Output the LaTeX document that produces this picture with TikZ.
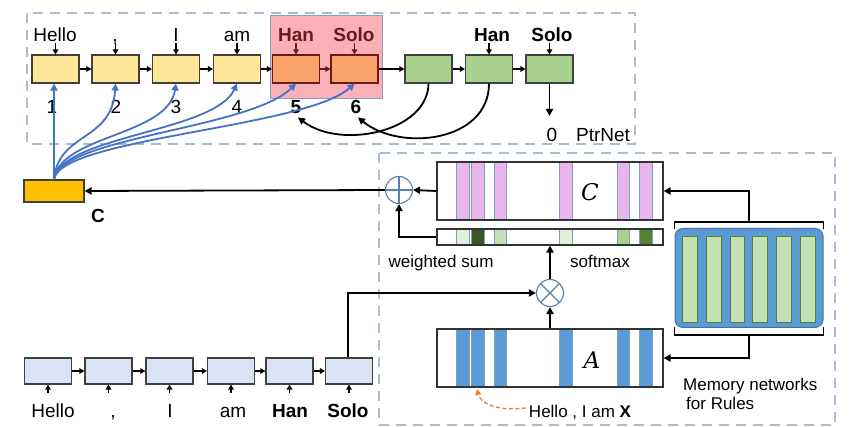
\documentclass[tikz,border=0pt]{standalone}
\usepackage{fontspec}
\setmainfont{Liberation Sans}
\newfontfamily\mfont{DejaVu Serif}
\usetikzlibrary{arrows.meta}
\definecolor{dashc}{HTML}{A7BBD3}
\definecolor{yel}{HTML}{FFE699}
\definecolor{org}{HTML}{FBA36C}
\definecolor{dred}{HTML}{6B1A1A}
\definecolor{pinkhl}{HTML}{FBB0B8}
\definecolor{grn}{HTML}{A9D18E}
\definecolor{gold}{HTML}{FFC000}
\definecolor{lav}{HTML}{DAE3F3}
\definecolor{bluec}{HTML}{4472C4}
\definecolor{stripeb}{HTML}{5B9BD5}
\definecolor{stripep}{HTML}{E8B6EC}
\definecolor{strbord}{HTML}{7F9FC0}
\definecolor{circc}{HTML}{5B7FA6}
\definecolor{bankb}{HTML}{5B9BD5}
\definecolor{bankd}{HTML}{41719C}
\definecolor{barg}{HTML}{C5E0B4}
\definecolor{bard}{HTML}{548235}
\definecolor{orarr}{HTML}{ED7D31}
\definecolor{g1}{HTML}{E2F0D9}
\definecolor{g2}{HTML}{375623}
\definecolor{g3}{HTML}{C5E0B4}
\definecolor{g5}{HTML}{A9D18E}
\definecolor{g6}{HTML}{548235}
\tikzset{
  arr/.style={line width=1.8pt,-{Triangle[length=7pt,width=7pt]}},
  sarr/.style={line width=1.5pt,-{Triangle[length=5pt,width=5.5pt]}},
  barr/.style={bluec,line width=1.8pt,-{Triangle[length=7pt,width=7pt]}},
  cell/.style={draw=black!75,line width=1.1pt,minimum width=47pt,minimum height=28pt,inner sep=0pt},
  ycell/.style={cell,fill=yel},
  ocell/.style={cell,fill=org,draw=dred},
  gcell/.style={cell,fill=grn},
  lcell/.style={cell,fill=lav,minimum height=26pt},
  lbl/.style={font=\fontsize{19}{22}\selectfont,inner sep=0pt,anchor=base},
  slbl/.style={font=\fontsize{17}{19}\selectfont,inner sep=0pt,anchor=base},
  mlbl/.style={font=\fontsize{23}{25}\selectfont\mfont\itshape,inner sep=0pt},
  dbox/.style={dashc,line width=2.2pt,dash pattern=on 10pt off 7pt},
  opnode/.style={circle,draw=circc,line width=1.1pt,minimum size=27pt,inner sep=0pt},
}
\begin{document}
\begin{tikzpicture}[x=1pt,y=-1pt]
\useasboundingbox (0,0) rectangle (849,427);
% dashed boxes
\draw[dbox] (27,13) rectangle (635,144);
\draw[dbox] (379,153) rectangle (835,425);
% highlight
\draw[fill=pinkhl,draw=strbord,line width=1pt] (270,16) rectangle (382,99);
% top cells
\node[ycell] (t1) at (55.5,69) {};
\node[ycell] (t2) at (115.5,69) {};
\node[ycell] (t3) at (176,69) {};
\node[ycell] (t4) at (237,69) {};
\node[ocell] (t5) at (296,69) {};
\node[ocell] (t6) at (354.5,69) {};
\node[gcell] (u1) at (428.5,69) {};
\node[gcell] (u2) at (489,69) {};
\node[gcell] (u3) at (549.5,69) {};
\draw[sarr] (t1) -- (t2);
\draw[sarr] (t2) -- (t3);
\draw[sarr] (t3) -- (t4);
\draw[sarr] (t4) -- (t5);
\draw[sarr,dred] (t5) -- (t6);
\draw[sarr] (t6) -- (u1);
\draw[sarr] (u1) -- (u2);
\draw[sarr] (u2) -- (u3);
% top labels
\node[lbl] (lh) at (55,42) {Hello};
\node[lbl] (lc) at (115,42) {,};
\node[lbl] (li) at (176,42) {I};
\node[lbl] (la) at (237,42) {am};
\node[lbl,text=dred] (lha) at (296,42) {\bfseries Han};
\node[lbl,text=dred] (lso) at (354,42) {\bfseries Solo};
\node[lbl] (gha) at (492,42) {\bfseries Han};
\node[lbl] (gso) at (552,42) {\bfseries Solo};
\foreach \n in {t1,t2,t3,t4,u2,u3} {\draw[sarr] ([yshift=11pt]\n.north) -- (\n.north);}
\foreach \n in {t5,t6} {\draw[sarr,dred] ([yshift=11pt]\n.north) -- (\n.north);}
% numbers
\node[lbl] (n1) at (52,114) {1};
\node[lbl] (n2) at (116,114) {2};
\node[lbl] (n3) at (176,114) {3};
\node[lbl] (n4) at (237,114) {4};
\node[lbl] (n5) at (296,114) {\bfseries 5};
\node[lbl] (n6) at (356,114) {\bfseries 6};
\node[lbl] (zero) at (552,142) {0};
\node[lbl] (ptr) at (603,142) {PtrNet};
\coordinate (zin) at (549.5,116);
\draw[arr] (u3.south) -- (zin);
% pointer arcs
\draw[arr] (u1.south) .. controls (428,132) and (340,150) .. ([xshift=2pt,yshift=-3pt]n5.south);
\draw[arr] (u2.south) .. controls (489,142) and (400,152) .. ([xshift=2pt,yshift=-3pt]n6.south);
% context box C
\node[draw=black!75,fill=gold,line width=1.1pt,minimum width=60pt,minimum height=22pt,inner sep=0pt] (cb) at (54,191) {};
\node[lbl] (clab) at (98,223) {\bfseries C};
% blue curves
\draw[barr] (cb.north) -- (cb.north |- t1.south);
\draw[barr] (cb.north) .. controls (58,132) and (112,142) .. (t2.south);
\draw[barr] (cb.north) .. controls (60,135) and (168,136) .. (t3.south);
\draw[barr] (cb.north) .. controls (60,136) and (215,132) .. (t4.south);
\draw[barr] (cb.north) .. controls (60,137) and (250,129) .. (t5.south);
\draw[barr] (cb.north) .. controls (60,138) and (305,128) .. (t6.south);
% C matrix
\node[draw=black!80,line width=1.1pt,minimum width=226pt,minimum height=58pt,inner sep=0pt] (cm) at (550,191) {};
\foreach \a/\b in {456/469,471/484,494/506,559/572,617/629,639/652}
  {\draw[fill=stripep,draw=strbord,line width=0.8pt] (\a,162) rectangle (\b,220);}
\draw[black!80,line width=1.1pt] (437,162) rectangle (663,220);
\node[mlbl] (cmt) at (590,192) {C};
% softmax bar
\node[draw=black!80,line width=1.1pt,minimum width=226pt,minimum height=16pt,inner sep=0pt] (sm) at (550,237) {};
\foreach \a/\b/\c in {456/469/g1,471/484/g2,494/506/g3,559/572/g1,617/629/g5,639/652/g6}
  {\draw[fill=\c,draw=strbord,line width=0.8pt] (\a,229) rectangle (\b,245);}
\draw[black!80,line width=1.1pt] (437,229) rectangle (663,245);
% A matrix
\node[draw=black!80,line width=1.1pt,minimum width=226pt,minimum height=58pt,inner sep=0pt] (am) at (550,358) {};
\foreach \a/\b in {456/469,471/484,494/506,559/572,617/629,639/652}
  {\draw[fill=stripeb,draw=strbord,line width=0.8pt] (\a,329) rectangle (\b,387);}
\draw[black!80,line width=1.1pt] (437,329) rectangle (663,387);
\node[mlbl] (amt) at (592,360) {A};
% operators
\node[opnode,path picture={\draw[circc,line width=1.1pt] (path picture bounding box.north) -- (path picture bounding box.south) (path picture bounding box.west) -- (path picture bounding box.east);}] (op) at (399,190) {};
\node[opnode,path picture={\draw[circc,line width=1.1pt] (path picture bounding box.north west) -- (path picture bounding box.south east) (path picture bounding box.south west) -- (path picture bounding box.north east);}] (ot) at (550,293) {};
\draw[arr] (cm.west) -- (op.east);
\draw[arr] (sm.west) -| (op.south);
\draw[arr] (op.west) -- (cb.east);
\draw[arr] (ot.north) -- (sm.south);
\draw[arr] (am.north) -- (ot.south);
\node[slbl] (ws) at (441,268) {weighted sum};
\node[slbl] (smx) at (600,268) {softmax};
% memory bank
\node[draw=bankd,fill=bankb,line width=1pt,rounded corners=8pt,minimum width=148pt,minimum height=99pt,inner sep=0pt] (bank) at (749,278) {};
\foreach \a/\b in {682/697,706/721,730/744,752/767,776/791,800/815}
  {\draw[fill=barg,draw=bard,line width=1pt] (\a,237) rectangle (\b,323);}
\draw[line width=1.8pt] ([yshift=-1pt]bank.north west) -- ([yshift=6pt]bank.north west) -- ([yshift=6pt]bank.north east) -- ([yshift=-1pt]bank.north east);
\draw[line width=1.8pt] ([yshift=1pt]bank.south west) -- ([yshift=-7pt]bank.south west) -- ([yshift=-7pt]bank.south east) -- ([yshift=1pt]bank.south east);
\draw[arr] ([yshift=6pt]bank.north) |- (cm.east);
\draw[arr] ([yshift=-7pt]bank.south) |- (am.east);
\node[slbl,anchor=base west] (mn) at (683,391) {Memory networks};
\node[slbl,anchor=base west] (fr) at (686,410) {for Rules};
% bottom encoder
\node[lcell] (b1) at (48,371) {};
\node[lcell] (b2) at (108.5,371) {};
\node[lcell] (b3) at (169.5,371) {};
\node[lcell] (b4) at (231,371) {};
\node[lcell] (b5) at (289.5,371) {};
\node[lcell] (b6) at (349,371) {};
\draw[sarr] (b1) -- (b2);
\draw[sarr] (b2) -- (b3);
\draw[sarr] (b3) -- (b4);
\draw[sarr] (b4) -- (b5);
\draw[sarr] (b5) -- (b6);
\foreach \n in {b1,b2,b3,b4,b5,b6} {\draw[sarr] ([yshift=-8pt]\n.south) -- (\n.south);}
\node[lbl] (bh) at (53,418) {Hello};
\node[lbl] (bc) at (113,418) {,};
\node[lbl] (bi) at (170,418) {I};
\node[lbl] (ba) at (233,418) {am};
\node[lbl] (bha) at (290,418) {\bfseries Han};
\node[lbl] (bso) at (348,418) {\bfseries Solo};
\draw[arr] ([xshift=-1pt]b6.north) |- (ot.west);
% query text
\node[slbl] (q) at (580,418) {Hello , I am \textbf{X}};
\coordinate (qa) at (477,389);
\draw[orarr,line width=1.3pt,dash pattern=on 4pt off 2.5pt,-{Triangle[length=6pt,width=6pt]}] ([xshift=-3pt,yshift=5pt]q.west) .. controls (495,412) and (480,402) .. (qa);
\end{tikzpicture}
\end{document}
